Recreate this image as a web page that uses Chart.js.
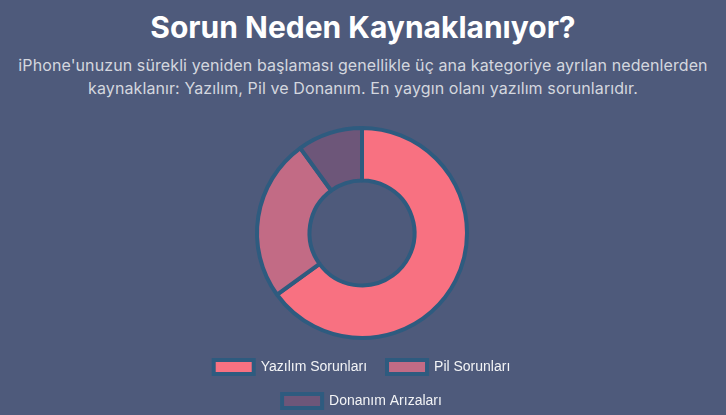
<!DOCTYPE html>
<html>
<head>
<meta charset="utf-8">
<script src="https://cdn.jsdelivr.net/npm/chart.js@4.4.0/dist/chart.umd.min.js"></script>
<style>
html,body{margin:0;padding:0;background:#4e5a7b;width:726px;height:415px;overflow:hidden;}
#title{position:absolute;left:0;top:9px;width:726px;text-align:center;font-family:Inter,sans-serif;font-weight:700;font-size:30px;line-height:36px;color:#ffffff;margin:0;}
#sub{position:absolute;left:13px;top:54px;width:700px;text-align:center;font-family:Inter,sans-serif;font-size:16px;line-height:23px;color:#d4d7df;margin:0;letter-spacing:0.1px;}
#wrap{position:absolute;left:162px;top:126px;width:400px;height:292px;}
</style>
</head>
<body>
<h1 id="title">Sorun Neden Kaynaklanıyor?</h1>
<p id="sub">iPhone'unuzun sürekli yeniden başlaması genellikle üç ana kategoriye ayrılan nedenlerden kaynaklanır: Yazılım, Pil ve Donanım. En yaygın olanı yazılım sorunlarıdır.</p>
<div id="wrap"><canvas id="c"></canvas></div>
<script>
const categories = ["Yazılım Sorunları", "Pil Sorunları", "Donanım Arızaları"];
const shares = [65, 25, 10];
const sliceColors = ["#f87181", "#c26b85", "#6d5679"];

new Chart(document.getElementById('c'), {
  type: 'doughnut',
  data: {
    labels: categories,
    datasets: [{
      data: shares,
      backgroundColor: sliceColors,
      borderColor: '#2e5b7f',
      borderWidth: 4,
      hoverOffset: 0
    }]
  },
  options: {
    responsive: true,
    maintainAspectRatio: false,
    animation: false,
    cutout: '50%',
    plugins: {
      legend: {
        position: 'bottom',
        labels: {
          color: '#f3f4f6',
          padding: 20,
          font: { size: 14 }
        }
      },
      tooltip: { enabled: true }
    }
  }
});
</script>
</body>
</html>
